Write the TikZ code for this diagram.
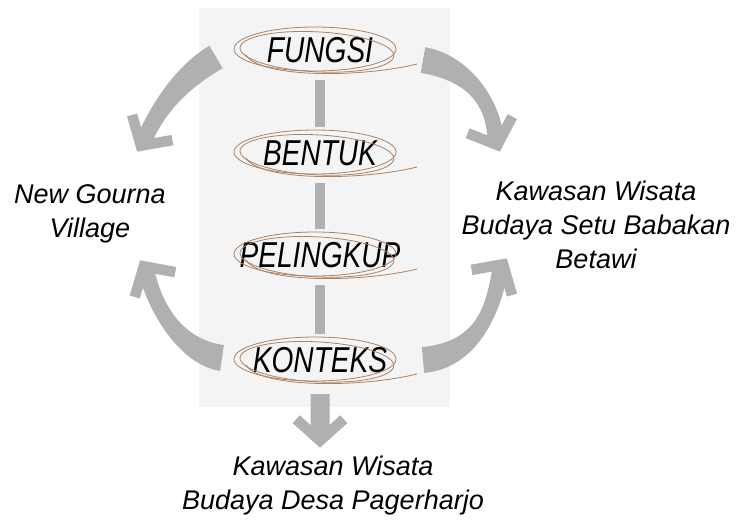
\documentclass[tikz,border=0pt]{standalone}
\usepackage{fontspec}
\setmainfont{Liberation Sans}
\newfontfamily\condfont[FakeStretch=0.78]{Liberation Sans}
\usetikzlibrary{shapes.geometric,calc}
\definecolor{arrowgray}{RGB}{176,176,176}
\definecolor{panelgray}{RGB}{244,244,244}
\definecolor{scribbrown}{RGB}{172,130,98}
\tikzset{
  keynode/.style={ellipse, minimum width=164pt, minimum height=44pt, inner sep=0pt,
    font=\condfont\itshape\fontsize{36}{40}\selectfont},
  outtext/.style={align=center, font=\itshape\fontsize{27}{34}\selectfont},
  bar/.style={draw=arrowgray, line width=10pt},
  chevron/.style={draw=arrowgray, line width=10.5pt, line join=miter},
  scr/.style={draw=scribbrown, line width=0.8pt},
  scribble/.pic={
    \draw[scr] (-5,-1) ellipse [x radius=81, y radius=22];
    \draw[scr, rotate=-3] (-3,2) ellipse [x radius=77, y radius=20];
    \draw[scr] (-74,5) .. controls (-60,28) and (40,28) .. (97,14);
  }
}
% tapered curved arrow: S C1 C2 E V B halfwidth-tail halfwidth-head
\newcommand\tarrow[8]{%
  \fill[arrowgray] ($(#1)!#7!90:(#2)$) .. controls ($(#2)!#7!-90:(#1)$) and ($(#3)!#8!90:(#4)$) .. ($(#4)!#8!-90:(#3)$)
    -- ($(#4)!#8!90:(#3)$) .. controls ($(#3)!#8!-90:(#4)$) and ($(#2)!#7!90:(#1)$) .. ($(#1)!#7!-90:(#2)$) -- cycle;
  \draw[chevron] ($(#5)!32pt!48:(#6)$) -- (#5) -- ($(#5)!32pt!-48:(#6)$);
}
\begin{document}
\begin{tikzpicture}[x=1pt,y=-1pt]
  \useasboundingbox[fill=white] (0,0) rectangle (738,525);
  \fill[panelgray] (199,8) rectangle (450,407);

  % key nodes
  \node[keynode] (fungsi) at (320,50) {FUNGSI};
  \node[keynode] (bentuk) at (320,153) {BENTUK};
  \node[keynode] (pelingkup) at (320,255) {PELINGKUP};
  \node[keynode] (konteks) at (320,360) {KONTEKS};
  \foreach \n in {fungsi,bentuk,pelingkup,konteks}{
    \path (\n.center) pic {scribble};
  }

  % outer texts
  \node[outtext] (gourna) at (90,214) {New Gourna\\Village};
  \node[outtext] (setu) at (596,225) {Kawasan Wisata\\Budaya Setu Babakan\\Betawi};
  \node[outtext] (pager) at (333,486) {Kawasan Wisata\\Budaya Desa Pagerharjo};

  % vertical bars
  \draw[bar] ([yshift=-8pt]fungsi.south) -- ([yshift=4pt]bentuk.north);
  \draw[bar] ([yshift=-8pt]bentuk.south) -- ([yshift=4pt]pelingkup.north);
  \draw[bar] ([yshift=-8pt]pelingkup.south) -- ([yshift=4pt]konteks.north);

  % arrow geometry
  \coordinate (tlS) at (216,57);  \coordinate (tlA) at (182,77);  \coordinate (tlB) at (158,108);
  \coordinate (tlE) at (143.5,141.5); \coordinate (tlV) at (140.9,145.7); \coordinate (tlK) at (156.8,120.2);
  \coordinate (trS) at (423,60);  \coordinate (trA) at (468,68);  \coordinate (trB) at (494,102);
  \coordinate (trE) at (495.6,140.3); \coordinate (trV) at (497.4,145); \coordinate (trK) at (486.9,116.8);
  \coordinate (blS) at (222,358); \coordinate (blA) at (180,352); \coordinate (blB) at (154,306);
  \coordinate (blE) at (146.4,270.5); \coordinate (blV) at (143.8,266.3); \coordinate (blK) at (159.4,291.8);
  \coordinate (brS) at (423,360); \coordinate (brA) at (478,355); \coordinate (brB) at (494,308);
  \coordinate (brE) at (500.4,268.5); \coordinate (brV) at (503.1,264.3); \coordinate (brK) at (487.2,289.8);
  \coordinate (bS) at (320,394);  \coordinate (bA) at (320,410);  \coordinate (bB) at (320,420);
  \coordinate (bE) at (320,435.6); \coordinate (bV) at (320,440.6); \coordinate (bK) at (320,410.6);

  \tarrow{tlS}{tlA}{tlB}{tlE}{tlV}{tlK}{13pt}{8pt}
  \tarrow{trS}{trA}{trB}{trE}{trV}{trK}{13pt}{8pt}
  \tarrow{blS}{blA}{blB}{blE}{blV}{blK}{13pt}{8pt}
  \tarrow{brS}{brA}{brB}{brE}{brV}{brK}{13pt}{8pt}
  \tarrow{bS}{bA}{bB}{bE}{bV}{bK}{9.5pt}{9.5pt}
\end{tikzpicture}
\end{document}
